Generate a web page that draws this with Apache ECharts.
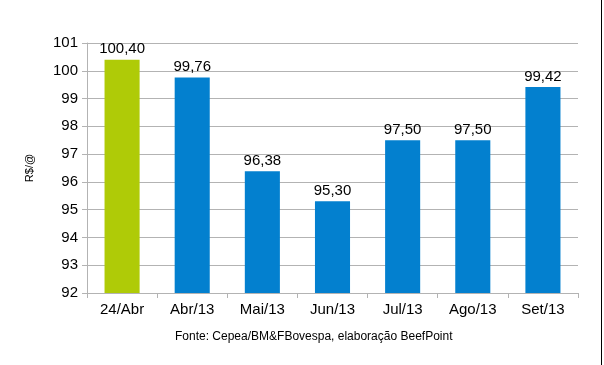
<!DOCTYPE html>
<html><head><meta charset="utf-8">
<script src="https://cdn.jsdelivr.net/npm/echarts@6/dist/echarts.min.js"></script>
<style>html,body{margin:0;padding:0;background:#fff}#c{width:604px;height:365px}</style>
</head><body><div id="c"></div>
<script>
const categories = ['24/Abr','Abr/13','Mai/13','Jun/13','Jul/13','Ago/13','Set/13'];
const values = [100.40, 99.76, 96.38, 95.30, 97.50, 97.50, 99.42];
const barColors = ['#afcb07','#0380cf','#0380cf','#0380cf','#0380cf','#0380cf','#0380cf'];
const yMin = 92, yMax = 101, yStep = 1;
const yName = 'R$/@';
const source = 'Fonte: Cepea/BM&FBovespa, elaboração BeefPoint';

const chart = echarts.init(document.getElementById('c'), null, {renderer:'canvas'});
const font = 'Liberation Sans, Arial, sans-serif';
chart.setOption({
  animation:false,
  grid:{left:87, right:26, top:43, bottom:72},
  xAxis:{type:'category', data:categories,
    axisLine:{lineStyle:{color:'#b3b3b3'}},
    axisTick:{show:true, alignWithLabel:false, length:5, lineStyle:{color:'#b3b3b3'}},
    axisLabel:{color:'#000', fontSize:15, fontFamily:font, margin:9}},
  yAxis:{type:'value', min:yMin, max:yMax, interval:yStep,
    name:yName, nameLocation:'middle', nameGap:52, nameRotate:90,
    nameTextStyle:{color:'#000', fontSize:11, fontFamily:font},
    axisLine:{show:true, lineStyle:{color:'#b3b3b3'}},
    axisTick:{show:true, length:5, lineStyle:{color:'#b3b3b3'}},
    splitLine:{lineStyle:{color:'#b3b3b3'}},
    axisLabel:{color:'#000', fontSize:15, fontFamily:font, margin:9}},
  series:[{type:'bar', barWidth:'50%',
    data: values.map((v,i)=>({value:v, itemStyle:{color:barColors[i]}})),
    label:{show:true, position:'top', color:'#000', fontSize:15, fontFamily:font, distance:3,
      formatter:p=>p.value.toFixed(2).replace('.',',')}}],
  graphic:[
    {type:'text', left:175, top:331, style:{text:source, fill:'#000', font:'12px '+font}},
    {type:'line', shape:{x1:601.5,y1:0,x2:601.5,y2:365}, style:{stroke:'#000', lineWidth:1}}
  ]
});
</script></body></html>
